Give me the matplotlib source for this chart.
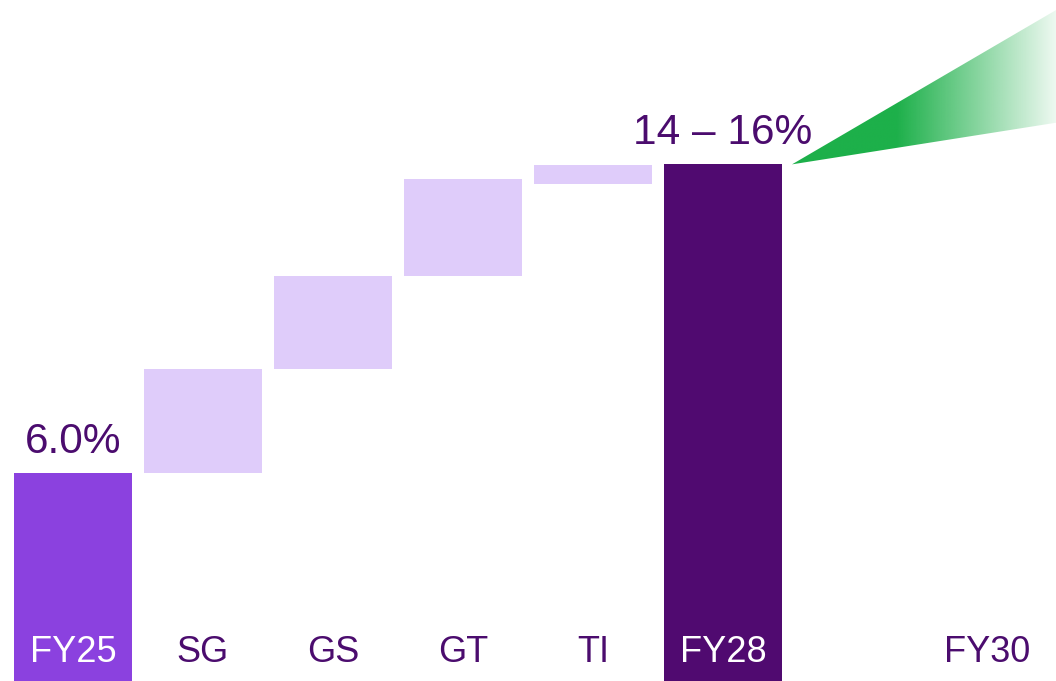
import numpy as np
import matplotlib.pyplot as plt
from matplotlib.patches import Polygon

plt.rcParams['font.family'] = ['Liberation Sans', 'DejaVu Sans']

# waterfall data (margin, %)
categories = ['FY25', 'SG', 'GS', 'GT', 'TI', 'FY28', '', 'FY30']
bar_bottoms = [0.0, 6.0, 9.0, 11.68, 14.33, 0.0]
bar_tops = [6.0, 9.0, 11.68, 14.48, 14.88, 14.9]
bar_labels = ['6.0%', '', '', '', '', '14 – 16%']
fy30_low = 16.1
fy30_high = 19.35

c_start = '#8B41DF'
c_step = '#DFCCFA'
c_end = '#500A70'
c_text = '#4B0C6E'
c_green = '#1DB04A'

fig = plt.figure(figsize=(10.56, 6.81), dpi=100)
ax = fig.add_axes([0, 0, 1, 1])
ax.set_xlim(-0.5615, 7.5615)
ax.set_ylim(0, 19.64)
ax.axis('off')

colors = [c_start, c_step, c_step, c_step, c_step, c_end]
x = np.arange(len(bar_tops))
heights = np.array(bar_tops) - np.array(bar_bottoms)
ax.bar(x, heights, bottom=bar_bottoms, width=0.908, color=colors, zorder=2)

for i, lab in enumerate(bar_labels):
    if lab:
        ax.annotate(lab, (x[i], bar_tops[i]), xytext=(0, 14.5), textcoords='offset points',
                    ha='center', va='baseline', fontsize=30.5, color=c_text)

for i, cat in enumerate(categories):
    col = 'white' if cat in ('FY25', 'FY28') else c_text
    ax.text(i + (0.03 if cat == 'FY30' else 0), 0.82, cat, ha='center', va='center',
            fontsize=26, color=col, zorder=3)

# fan towards FY30
x0 = x[-1] + 0.908 / 2 + 0.077
x1 = 7.5615
tri = Polygon([[x0, bar_tops[-1]], [x1, fy30_high], [x1, fy30_low]], closed=True,
              facecolor='none', edgecolor='none')
ax.add_patch(tri)
xs = np.linspace(x0, x1, 300)
alpha = np.clip(1 - (xs - 6.34) / (x1 - 6.34) * 0.92, 0.08, 1)
img = np.zeros((2, len(xs), 4))
img[..., :3] = np.array([0x1D, 0xB0, 0x4A]) / 255
img[..., 3] = alpha
im = ax.imshow(img, extent=[x0, x1, bar_tops[-1] - 0.2, fy30_high + 0.2],
               aspect='auto', interpolation='bilinear', zorder=1)
im.set_clip_path(tri)

fig.savefig('out.png', dpi=100, facecolor='white')
